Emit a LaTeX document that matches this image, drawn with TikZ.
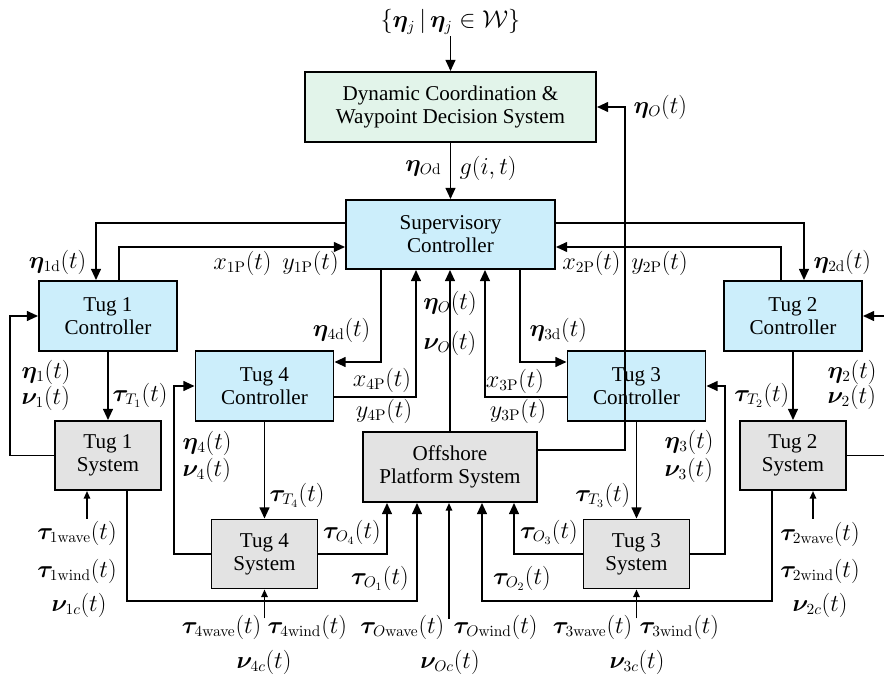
\documentclass[tikz,border=0pt]{standalone}
\usepackage{amsmath}
\usepackage{bm}
\usepackage[no-math]{fontspec}
\setmainfont{Liberation Serif}
\usetikzlibrary{positioning, arrows.meta, calc}

\definecolor{ctrlblue}{HTML}{CCEEFB}
\definecolor{sysgray}{HTML}{E3E3E3}
\definecolor{dcgreen}{HTML}{E2F4EA}

\begin{document}
\begin{tikzpicture}[
    x=0.025cm, y=-0.025cm,
    blk/.style={draw, line width=1.3pt, inner sep=0pt, align=center, font=\fontsize{15}{16.5}\selectfont},
    ctrl/.style={blk, fill=ctrlblue, minimum width=3.45cm, minimum height=1.75cm},
    sys/.style={blk, fill=sysgray, minimum width=2.65cm, minimum height=1.725cm},
    lbl/.style={inner sep=1pt, font=\fontsize{16}{18}\selectfont},
    wire/.style={line width=1.3pt},
    arr/.style={wire, -{Triangle[length=8pt,width=7pt]}},
    sarr/.style={wire, -{Triangle[length=5.5pt,width=4.5pt]}}
]
\useasboundingbox (0,0) rectangle (884,683);

% blocks
\node[blk, fill=dcgreen, minimum width=7.275cm, minimum height=1.75cm] (dc) at (450.5,107) {Dynamic Coordination \&\\Waypoint Decision System};
\node[blk, fill=ctrlblue, minimum width=5.225cm, minimum height=1.725cm] (sc) at (450.5,234.5) {Supervisory\\Controller};
\node[ctrl] (t1c) at (108,316) {Tug 1\\Controller};
\node[ctrl] (t2c) at (793,316) {Tug 2\\Controller};
\node[ctrl] (t4c) at (264.5,386) {Tug 4\\Controller};
\node[ctrl] (t3c) at (636.5,386) {Tug 3\\Controller};
\node[sys] (t1s) at (108,455.5) {Tug 1\\System};
\node[sys] (t2s) at (793,455.5) {Tug 2\\System};
\node[sys] (t4s) at (264.5,554) {Tug 4\\System};
\node[sys] (t3s) at (636.5,554) {Tug 3\\System};
\node[blk, fill=sysgray, minimum width=4.35cm, minimum height=1.75cm] (ops) at (450,467) {Offshore\\Platform System};

% lanes
\coordinate (upA) at (0,223);
\coordinate (upB) at (0,247);
\coordinate (fbL) at (10,0);
\coordinate (fbR) at (884,0);
\coordinate (fb4) at (174,0);
\coordinate (fb3) at (725,0);
\coordinate (fbO) at (625,0);

% top
\node[lbl] (wset) at (450.5,22) {$\left\{\bm{\eta}_j \,|\, \bm{\eta}_j \in \mathcal{W}\right\}$};
\draw[arr] (wset) -- (dc);
\draw[arr] (dc) -- (sc);
\node[lbl, anchor=east] (etaod) at (443,168) {$\bm{\eta}_{O\mathrm{d}}$};
\node[lbl, anchor=west] (git) at (458,168) {$g(i,t)$};
\draw[arr] ($(ops.east)+(0,-17)$) -| (fbO |- dc.east) -- (dc.east);
\node[lbl, anchor=west] (etaofb) at (632,107) {$\bm{\eta}_O(t)$};

% supervisory <-> tug 1 / tug 2 controllers
\draw[arr] (sc.west |- upA) -| ($(t1c.north)+(-12,0)$);
\draw[arr] ($(t1c.north)+(11,0)$) |- (sc.west |- upB);
\draw[arr] (sc.east |- upA) -| ($(t2c.north)+(11,0)$);
\draw[arr] ($(t2c.north)+(-12,0)$) |- (sc.east |- upB);
\node[lbl, anchor=east] (eta1d) at (88,262) {$\bm{\eta}_{\mathrm{1d}}(t)$};
\node[lbl] (xy1) at (276,263) {$x_{\mathrm{1P}}(t)\;\, y_{\mathrm{1P}}(t)$};
\node[lbl, anchor=west] (eta2d) at (812,262) {$\bm{\eta}_{\mathrm{2d}}(t)$};
\node[lbl] (xy2) at (625,263) {$x_{\mathrm{2P}}(t)\;\, y_{\mathrm{2P}}(t)$};

% supervisory <-> tug 4 / tug 3 controllers
\draw[arr] ($(sc.south)+(-69.5,0)$) |- ($(t4c.east)+(0,-24)$);
\draw[arr] ($(t4c.east)+(0,11)$) -| ($(sc.south)+(-34.5,0)$);
\draw[arr] ($(sc.south)+(69.5,0)$) |- ($(t3c.west)+(0,-24)$);
\draw[arr] ($(t3c.west)+(0,11)$) -| ($(sc.south)+(34.5,0)$);
\draw[arr] (ops.north) -- (ops.north |- sc.south);
\node[lbl, anchor=east] (eta4d) at (372,330) {$\bm{\eta}_{\mathrm{4d}}(t)$};
\node[lbl] (x4) at (382,380) {$x_{\mathrm{4P}}(t)$};
\node[lbl] (y4) at (384,411) {$y_{\mathrm{4P}}(t)$};
\node[lbl, anchor=west] (eta3d) at (528,330) {$\bm{\eta}_{\mathrm{3d}}(t)$};
\node[lbl] (x3) at (515,381) {$x_{\mathrm{3P}}(t)$};
\node[lbl] (y3) at (518,411) {$y_{\mathrm{3P}}(t)$};
\node[lbl] (etao) at (450,303) {$\bm{\eta}_O(t)$};
\node[lbl] (nuo) at (450,343) {$\bm{\nu}_O(t)$};

% controllers -> systems
\draw[arr] (t1c) -- (t1s);
\draw[arr] (t2c) -- (t2s);
\draw[arr] (t4c) -- (t4s);
\draw[arr] (t3c) -- (t3s);
\node[lbl, anchor=west] (tt1) at (111,395) {$\bm{\tau}_{T_1}(t)$};
\node[lbl, anchor=east] (tt2) at (791,395) {$\bm{\tau}_{T_2}(t)$};
\node[lbl, anchor=west] (tt4) at (268,495) {$\bm{\tau}_{T_4}(t)$};
\node[lbl, anchor=east] (tt3) at (632,495) {$\bm{\tau}_{T_3}(t)$};

% state feedback
\draw[arr] (t1s.west) -| (fbL |- t1c.west) -- (t1c.west);
\draw[wire] (t2s.east) -- (t2s.east -| fbR);
\draw[arr] (t2c.east -| fbR) -- (t2c.east);
\draw[arr] (t4s.west) -| (fb4 |- t4c.west) -- (t4c.west);
\draw[arr] (t3s.east) -| (fb3 |- t3c.east) -- (t3c.east);
\node[lbl, anchor=west] (eta1) at (20,372) {$\bm{\eta}_1(t)$};
\node[lbl, anchor=west] (nu1) at (20,398) {$\bm{\nu}_1(t)$};
\node[lbl, anchor=west] (eta2) at (826,372) {$\bm{\eta}_2(t)$};
\node[lbl, anchor=west] (nu2) at (826,397) {$\bm{\nu}_2(t)$};
\node[lbl, anchor=west] (eta4) at (181,443) {$\bm{\eta}_4(t)$};
\node[lbl, anchor=west] (nu4) at (181,470) {$\bm{\nu}_4(t)$};
\node[lbl, anchor=west] (eta3) at (663,442) {$\bm{\eta}_3(t)$};
\node[lbl, anchor=west] (nu3) at (663,470) {$\bm{\nu}_3(t)$};

% tug forces on the platform
\draw[arr] (t4s.east) -| ($(ops.south)+(-63,0)$);
\draw[arr] (t3s.west) -| ($(ops.south)+(64,0)$);
\draw[arr] ($(t1s.south)+(19,0)$) -- ++(0,110) -| ($(ops.south)+(-33,0)$);
\draw[arr] ($(t2s.south)+(-21,0)$) -- ++(0,110) -| ($(ops.south)+(32,0)$);
\node[lbl] (to4) at (352,532) {$\bm{\tau}_{O_4}(t)$};
\node[lbl] (to1) at (380,578) {$\bm{\tau}_{O_1}(t)$};
\node[lbl] (to3) at (549,532) {$\bm{\tau}_{O_3}(t)$};
\node[lbl] (to2) at (522,578) {$\bm{\tau}_{O_2}(t)$};

% environmental disturbances
\draw[sarr] ($(t1s.south)+(-21,28)$) -- ($(t1s.south)+(-21,0)$);
\draw[sarr] ($(t2s.south)+(20,28)$) -- ($(t2s.south)+(20,0)$);
\draw[sarr] ($(t4s.south)+(0,29)$) -- (t4s.south);
\draw[sarr] ($(t3s.south)+(0,29)$) -- (t3s.south);
\draw[sarr] ($(ops.south)+(-1,116)$) -- ($(ops.south)+(-1,0)$);
\node[lbl] (w1) at (77,533) {$\bm{\tau}_{\mathrm{1wave}}(t)$};
\node[lbl] (v1) at (77,571) {$\bm{\tau}_{\mathrm{1wind}}(t)$};
\node[lbl] (c1) at (79,605) {$\bm{\nu}_{\mathrm{1}c}(t)$};
\node[lbl] (w2) at (820,534) {$\bm{\tau}_{\mathrm{2wave}}(t)$};
\node[lbl] (v2) at (820,571) {$\bm{\tau}_{\mathrm{2wind}}(t)$};
\node[lbl] (c2) at (820,605) {$\bm{\nu}_{\mathrm{2}c}(t)$};
\node[lbl, anchor=east] (w4) at (263,627) {$\bm{\tau}_{\mathrm{4wave}}(t)$};
\node[lbl, anchor=west] (v4) at (266,627) {$\bm{\tau}_{\mathrm{4wind}}(t)$};
\node[lbl] (c4) at (264,662) {$\bm{\nu}_{\mathrm{4}c}(t)$};
\node[lbl, anchor=east] (w3) at (634,627) {$\bm{\tau}_{\mathrm{3wave}}(t)$};
\node[lbl, anchor=west] (v3) at (638,627) {$\bm{\tau}_{\mathrm{3wind}}(t)$};
\node[lbl] (c3) at (637,662) {$\bm{\nu}_{\mathrm{3}c}(t)$};
\node[lbl, anchor=east] (wo) at (446,627) {$\bm{\tau}_{O\mathrm{wave}}(t)$};
\node[lbl, anchor=west] (vo) at (452,627) {$\bm{\tau}_{O\mathrm{wind}}(t)$};
\node[lbl] (co) at (450,662) {$\bm{\nu}_{Oc}(t)$};
\end{tikzpicture}
\end{document}
